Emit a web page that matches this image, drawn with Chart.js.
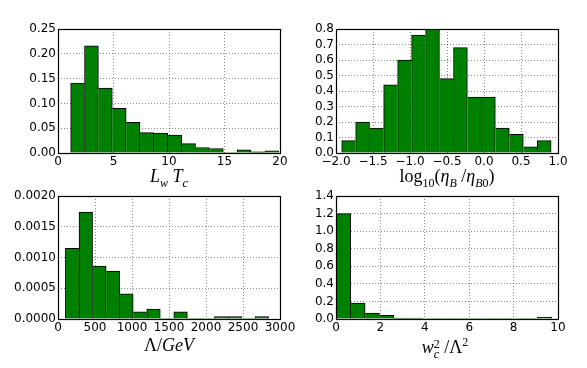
<!DOCTYPE html>
<html>
<head>
<meta charset="utf-8">
<script src="https://cdn.jsdelivr.net/npm/chart.js@4.4.0/dist/chart.umd.min.js"></script>
<style>
  body { margin: 0; background: #fff; width: 587px; height: 368px; position: relative; overflow: hidden; }
  canvas { position: absolute; }
  .lab { position: absolute; font-family: "Liberation Serif", "DejaVu Serif", serif; font-size: 18px; color: #000; white-space: nowrap; transform: translateX(-50%); }
  .lab i { font-style: italic; }
  .lab sub, .lab sup { font-size: 12px; }
  .ss { display: inline-block; vertical-align: -5px; line-height: 10px; font-size: 12px; text-align: left; }
  .ss span { display: block; }
  .up { font-style: normal; }
</style>
</head>
<body>
<canvas id="c1" width="295" height="172" style="left:0;top:0"></canvas>
<canvas id="c2" width="297" height="172" style="left:290px;top:0"></canvas>
<canvas id="c3" width="300" height="170" style="left:0;top:170px"></canvas>
<canvas id="c4" width="297" height="170" style="left:290px;top:170px"></canvas>

<div class="lab" style="left:169px;top:166px"><i>L</i><sub><i>w</i></sub> <i>T</i><sub><i>c</i></sub></div>
<div class="lab" style="left:447px;top:166px">log<sub>10</sub>(<i>η</i><sub><i>B</i></sub> /<i>η</i><sub><i>B</i>0</sub>)</div>
<div class="lab" style="left:169px;top:335px"><span class="up">Λ</span>/<i>GeV</i></div>
<div class="lab" style="left:445px;top:335px"><i>w</i><span class="ss"><span>2</span><span><i>c</i></span></span> /<span class="up">Λ</span><sup>2</sup></div>

<script>
// histogram bin edges and heights
const lwtcEdges = [1.14, 2.39, 3.64, 4.89, 6.14, 7.39, 8.64, 9.89, 11.14, 12.39, 13.64, 14.89, 16.14, 17.39, 18.64, 19.89];
const lwtcVals  = [0.141, 0.216, 0.131, 0.090, 0.062, 0.041, 0.040, 0.036, 0.019, 0.011, 0.009, 0, 0.0065, 0.0025, 0.0045];

const etaEdges = [-1.924, -1.735, -1.546, -1.357, -1.168, -0.979, -0.790, -0.601, -0.413, -0.224, -0.035, 0.154, 0.343, 0.532, 0.721, 0.906];
const etaVals  = [0.08, 0.20, 0.16, 0.44, 0.60, 0.76, 0.80, 0.48, 0.68, 0.36, 0.36, 0.16, 0.12, 0.04, 0.08];

const lamEdges = [99, 284, 467, 650, 833, 1016, 1199, 1382, 1565, 1748, 1931, 2114, 2297, 2480, 2663, 2846];
const lamVals  = [0.00115, 0.00174, 0.00086, 0.00078, 0.00041, 0.000115, 0.00016, 0, 0.000115, 0, 0, 0.00004, 0.00004, 0, 0.00004];

const wcEdges = [0.02, 0.67, 1.31, 1.96, 2.61, 3.25, 3.90, 4.55, 5.19, 5.84, 6.49, 7.13, 7.78, 8.43, 9.07, 9.72];
const wcVals  = [1.20, 0.18, 0.066, 0.042, 0.011, 0.011, 0, 0, 0, 0, 0, 0, 0, 0, 0.022];

const tickFont = { family: "'DejaVu Sans', sans-serif", size: 12 };

const framePlugin = {
	id: 'frame',
	afterDraw(chart) {
		const a = chart.chartArea;
		const c = chart.ctx;
		c.save();
		c.strokeStyle = '#000';
		c.lineWidth = 1.2;
		c.strokeRect(Math.round(a.left) + 0.5, Math.round(a.top) + 0.5, Math.round(a.right - a.left), Math.round(a.bottom - a.top));
		c.restore();
	}
};

function fmt(v, d) {
	return Number(v).toFixed(d).replace('-', '\u2212');
}

function hist_init(id, edges, vals, o) {
	const pts = vals.map((v, i) => ({ x: (edges[i] + edges[i + 1]) / 2, y: v }));
	return new Chart(document.getElementById(id).getContext('2d'), {
		type: 'bar',
		data: {
			datasets: [{
				data: pts,
				backgroundColor: '#008000',
				borderColor: '#000',
				borderSkipped: false,
				borderWidth: (ctx) => {
					const i = ctx.dataIndex;
					const v = vals[i];
					if (!v) return 0;
					const prev = i > 0 ? vals[i - 1] : 0;
					const next = i < vals.length - 1 ? vals[i + 1] : 0;
					return { top: 1, bottom: 0, left: prev <= v ? 1 : 0, right: next < v ? 1 : 0 };
				},
				barPercentage: 1,
				categoryPercentage: 1,
			}]
		},
		options: {
			animation: false,
			responsive: false,
			layout: { padding: { top: o.top, right: o.right, left: 0, bottom: 0 } },
			plugins: { legend: { display: false }, tooltip: { enabled: false } },
			scales: {
				x: {
					type: 'linear',
					offset: false,
					min: o.xmin, max: o.xmax,
					afterFit: (s) => { s.height = o.xh; },
					afterBuildTicks: (s) => { s.ticks = o.xticks.map(v => ({ value: v })); },
					ticks: { font: tickFont, color: '#000', padding: 2, maxRotation: 0, autoSkip: false, callback: (v) => fmt(v, o.xd) },
					grid: { color: 'rgba(0,0,0,0.45)', lineWidth: 1, drawTicks: false, offset: false },
					border: { display: false, dash: [1, 2] },
				},
				y: {
					min: 0, max: o.ymax,
					afterFit: (s) => { s.width = o.left; },
					afterBuildTicks: (s) => { s.ticks = o.yticks.map(v => ({ value: v })); },
					ticks: { font: tickFont, color: '#000', padding: 2, autoSkip: false, callback: (v) => fmt(v, o.yd) },
					grid: { color: 'rgba(0,0,0,0.45)', lineWidth: 1, drawTicks: false },
					border: { display: false, dash: [1, 2] },
				}
			}
		},
		plugins: [framePlugin]
	});
}

const lwtcXTicks = [0, 5, 10, 15, 20];
const lwtcYTicks = [0, 0.05, 0.10, 0.15, 0.20, 0.25];
const etaXTicks = [-2.0, -1.5, -1.0, -0.5, 0.0, 0.5, 1.0];
const etaYTicks = [0, 0.1, 0.2, 0.3, 0.4, 0.5, 0.6, 0.7, 0.8];
const lamXTicks = [0, 500, 1000, 1500, 2000, 2500, 3000];
const lamYTicks = [0, 0.0005, 0.0010, 0.0015, 0.0020];
const wcXTicks = [0, 2, 4, 6, 8, 10];
const wcYTicks = [0, 0.2, 0.4, 0.6, 0.8, 1.0, 1.2, 1.4];

hist_init('c1', lwtcEdges, lwtcVals, { top: 29, right: 15, left: 58, xh: 19, xmin: 0, xmax: 20, ymax: 0.25, xticks: lwtcXTicks, yticks: lwtcYTicks, xd: 0, yd: 2 });
hist_init('c2', etaEdges, etaVals, { top: 29, right: 29, left: 46, xh: 19, xmin: -2, xmax: 1, ymax: 0.8, xticks: etaXTicks, yticks: etaYTicks, xd: 1, yd: 1 });
hist_init('c3', lamEdges, lamVals, { top: 26, right: 20, left: 58, xh: 21, xmin: 0, xmax: 3000, ymax: 0.002, xticks: lamXTicks, yticks: lamYTicks, xd: 0, yd: 4 });
hist_init('c4', wcEdges, wcVals, { top: 26, right: 29, left: 46, xh: 21, xmin: 0, xmax: 10, ymax: 1.4, xticks: wcXTicks, yticks: wcYTicks, xd: 0, yd: 1 });
</script>
</body>
</html>
